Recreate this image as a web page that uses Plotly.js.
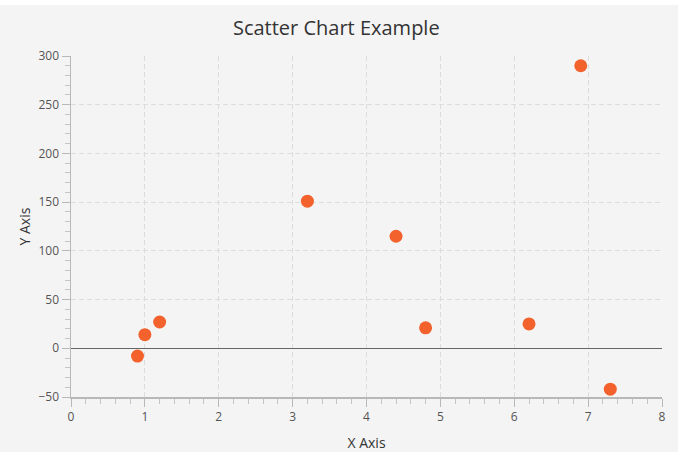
<!DOCTYPE html>
<html><head><meta charset="utf-8">
<script src="https://cdn.plot.ly/plotly-3.0.1.min.js"></script>
<style>
html,body{margin:0;padding:0;background:#ffffff;}
#chart{position:absolute;left:0;top:5px;width:678px;height:447px;}
</style></head>
<body><div id="chart"></div>
<script>
const xValues = [0.9, 1.0, 1.2, 3.2, 4.4, 4.8, 6.2, 6.9, 7.3];
const yValues = [-8, 14, 27, 151, 115, 21, 25, 290, -42];
const chartTitle = "Scatter Chart Example";
const xTitle = "X Axis";
const yTitle = "Y Axis";

const font = "Open Sans, Noto Sans, sans-serif";
const trace = {
  x: xValues, y: yValues, type: "scatter", mode: "markers",
  marker: {color: "#f3622d", size: 13, line: {width: 0}},
  hoverinfo: "x+y"
};
const layout = {
  width: 678, height: 447,
  paper_bgcolor: "#f4f4f4", plot_bgcolor: "#f4f4f4",
  margin: {l: 71, r: 16, t: 51, b: 55},
  showlegend: false,
  title: {text: chartTitle, font: {family: font, size: 20, color: "#333333"}, x: 0.496, xref: "container", xanchor: "center", y: 1 - 23/447, yref: "container", yanchor: "middle"},
  xaxis: {
    range: [0, 8], dtick: 1, tick0: 0,
    showgrid: true, gridcolor: "#dddddd", griddash: "5px,3px", gridwidth: 1,
    zeroline: false,
    showline: true, linecolor: "#b8b8b8", linewidth: 1.5,
    ticks: "outside", ticklen: 8, tickcolor: "#b8b8b8", tickwidth: 1,
    minor: {dtick: 0.2, ticks: "outside", ticklen: 5, tickcolor: "#c4c4c4", showgrid: false},
    tickfont: {family: font, size: 12, color: "#555555"},
    title: {text: xTitle, font: {family: font, size: 14, color: "#333333"}, standoff: 14}
  },
  yaxis: {
    range: [-50, 300], dtick: 50, tick0: 0,
    showgrid: true, gridcolor: "#dddddd", griddash: "5px,3px", gridwidth: 1,
    zeroline: true, zerolinecolor: "#666666", zerolinewidth: 1.2,
    showline: true, linecolor: "#b8b8b8", linewidth: 1.5,
    ticks: "outside", ticklen: 8, tickcolor: "#b8b8b8", tickwidth: 1,
    minor: {dtick: 10, ticks: "outside", ticklen: 5, tickcolor: "#c4c4c4", showgrid: false},
    tickfont: {family: font, size: 12, color: "#555555"}
  },
  annotations: [{
    text: yTitle, xref: "paper", yref: "paper", x: 0, y: 0.5,
    xanchor: "center", yanchor: "middle", xshift: -47, textangle: -90,
    showarrow: false, font: {family: font, size: 14, color: "#333333"}
  }]
};
Plotly.newPlot("chart", [trace], layout, {displayModeBar: false, staticPlot: true});
</script></body></html>
